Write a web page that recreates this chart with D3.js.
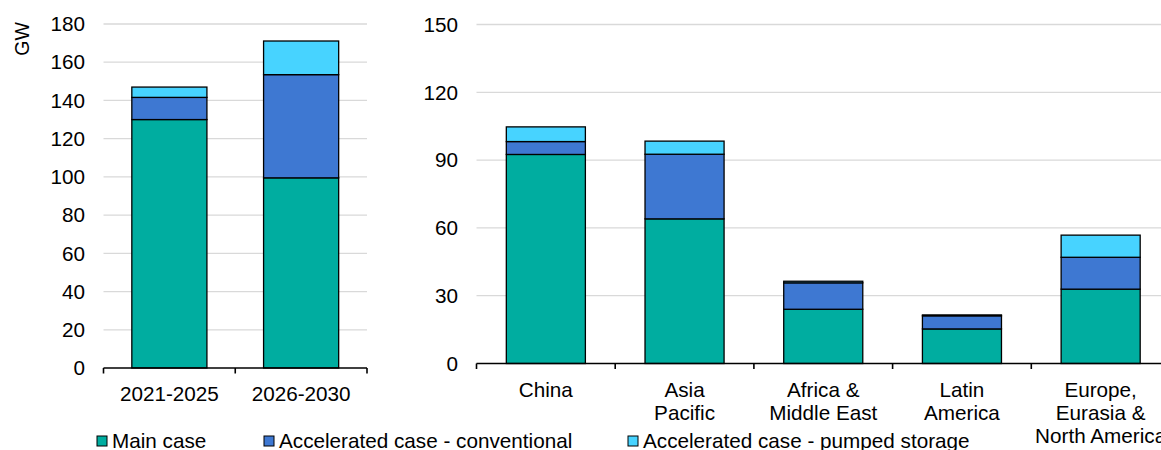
<!DOCTYPE html>
<html>
<head>
<meta charset="utf-8">
<script src="https://cdn.jsdelivr.net/npm/d3@7"></script>
<style>
  html, body { margin: 0; padding: 0; background: #fff; }
  svg { display: block; font-family: "Liberation Sans", Arial, sans-serif; }
</style>
</head>
<body>
<svg id="chart" width="1161" height="450"></svg>
<script>
// ---- Data ----
const periods = ["2021-2025", "2026-2030"];
const periodMain = [130, 99.5];
const periodConventional = [11.6, 54];
const periodPumped = [5.4, 17.6];

const regions = ["China", "Asia\nPacific", "Africa &\nMiddle East", "Latin\nAmerica", "Europe,\nEurasia &\nNorth America"];
const regionMain = [92.5, 64, 24, 15.3, 32.9];
const regionConventional = [5.7, 28.6, 11.7, 5.8, 14.1];
const regionPumped = [6.5, 5.8, 0.7, 0.4, 9.8];

const leftTicks = [0, 20, 40, 60, 80, 100, 120, 140, 160, 180];
const rightTicks = [0, 30, 60, 90, 120, 150];

const seriesNames = ["Main case", "Accelerated case - conventional", "Accelerated case - pumped storage"];
const seriesColors = ["#00ada0", "#3e78d2", "#47d3ff"];
const unitLabel = "GW";

// ---- Drawing ----
const svg = d3.select("#chart");
const FONT = 20.7;
const barRatio = 0.57;

function drawPanel(cfg) {
  const g = svg.append("g");
  const x = d3.scaleBand().domain(cfg.cats).range([cfg.x0, cfg.x1]).paddingInner(0).paddingOuter(0);
  const y = d3.scaleLinear().domain([0, cfg.ticks[cfg.ticks.length - 1]]).range([cfg.y0, cfg.yTop]);

  // gridlines
  g.append("g").selectAll("line").data(cfg.ticks.filter(t => t > 0)).join("line")
    .attr("x1", cfg.x0).attr("x2", cfg.x1)
    .attr("y1", d => y(d)).attr("y2", d => y(d))
    .attr("stroke", "#d9d9d9").attr("stroke-width", 1.3);

  // tick labels
  g.append("g").selectAll("text").data(cfg.ticks).join("text")
    .attr("x", cfg.x0 - 18.5).attr("y", d => y(d)).attr("dy", "0.35em")
    .attr("text-anchor", "end").attr("font-size", FONT).attr("fill", "#000")
    .text(d => d);

  // stacked bars
  const rows = cfg.cats.map((c, i) => ({ cat: c, main: cfg.series[0][i], conv: cfg.series[1][i], pump: cfg.series[2][i] }));
  const stack = d3.stack().keys(["main", "conv", "pump"])(rows);
  const bw = x.bandwidth() * barRatio;
  stack.forEach((layer, li) => {
    g.append("g").selectAll("rect").data(layer).join("rect")
      .attr("x", d => x(d.data.cat) + (x.bandwidth() - bw) / 2)
      .attr("width", bw)
      .attr("y", d => y(d[1]))
      .attr("height", d => Math.max(0, y(d[0]) - y(d[1])))
      .attr("fill", seriesColors[li])
      .attr("stroke", "#000").attr("stroke-width", 1.3);
  });

  // x axis with boundary ticks
  const axis = g.append("g");
  axis.append("line").attr("x1", cfg.x0).attr("x2", cfg.x1).attr("y1", cfg.y0).attr("y2", cfg.y0)
    .attr("stroke", "#000").attr("stroke-width", 1.6);
  const bounds = cfg.cats.map(c => x(c)).concat([cfg.x1]);
  axis.selectAll("line.tk").data(bounds).join("line").attr("class", "tk")
    .attr("x1", d => d).attr("x2", d => d).attr("y1", cfg.y0).attr("y2", cfg.y0 + 5.5)
    .attr("stroke", "#000").attr("stroke-width", 1.6);

  // category labels
  const lab = g.append("g").selectAll("text").data(cfg.cats).join("text")
    .attr("text-anchor", "middle").attr("font-size", FONT).attr("fill", "#000")
    .attr("x", d => x(d) + x.bandwidth() / 2).attr("y", cfg.labelY);
  lab.each(function(d) {
    const t = d3.select(this);
    d.split("\n").forEach((line, i) => {
      t.append("tspan").attr("x", t.attr("x")).attr("dy", i === 0 ? 0 : 23).text(line);
    });
  });
}

drawPanel({ cats: periods, series: [periodMain, periodConventional, periodPumped], ticks: leftTicks,
  x0: 103.5, x1: 367, y0: 368, yTop: 24, labelY: 401 });
drawPanel({ cats: regions, series: [regionMain, regionConventional, regionPumped], ticks: rightTicks,
  x0: 476.5, x1: 1170, y0: 363.5, yTop: 24.5, labelY: 397 });

// unit label
svg.append("text").attr("transform", "translate(29,39) rotate(-90)")
  .attr("text-anchor", "middle").attr("font-size", 19.5).text(unitLabel);

// legend
const legendX = [97, 264, 628];
const leg = svg.append("g").selectAll("g").data(seriesNames).join("g")
  .attr("transform", (d, i) => `translate(${legendX[i]},436)`);
leg.append("rect").attr("width", 10).attr("height", 10)
  .attr("fill", (d, i) => seriesColors[i]).attr("stroke", "#000").attr("stroke-width", 1);
leg.append("text").attr("x", 15).attr("y", 11.5).attr("font-size", FONT).text(d => d);
</script>
</body>
</html>
